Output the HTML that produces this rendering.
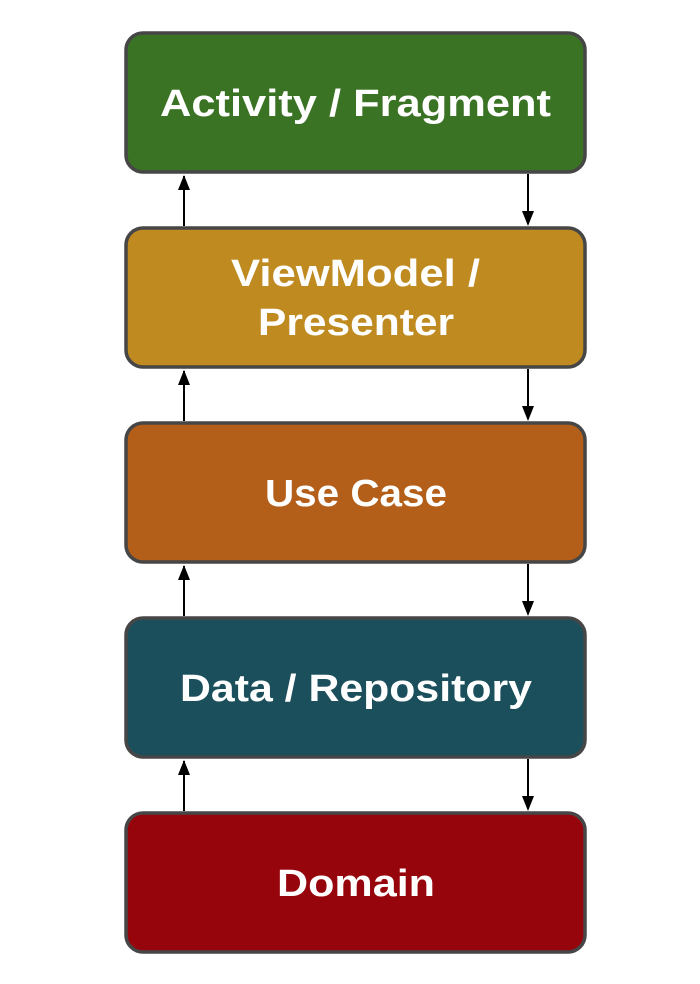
<!DOCTYPE html>
<html><head><meta charset="utf-8"><style>
html,body{margin:0;padding:0;background:#fff;}
svg{display:block}
text{font-family:"Liberation Sans",sans-serif;font-weight:bold;fill:#fff;font-size:38px;text-anchor:middle}
</style></head><body>
<svg width="700" height="984" viewBox="0 0 700 984">
<g stroke="#464646" stroke-width="3.5">
<rect x="126" y="33" width="459" height="139" rx="17" fill="#3b7324"/>
<rect x="126" y="228" width="459" height="139" rx="17" fill="#bf8b21"/>
<rect x="126" y="423" width="459" height="139" rx="17" fill="#b35f1a"/>
<rect x="126" y="618" width="459" height="139" rx="17" fill="#1b4f5b"/>
<rect x="126" y="813" width="459" height="139" rx="17" fill="#96040c"/>
</g>
<text x="355.5" y="116" textLength="391" lengthAdjust="spacingAndGlyphs">Activity / Fragment</text>
<text x="355.5" y="286" textLength="249" lengthAdjust="spacingAndGlyphs">ViewModel /</text>
<text x="356" y="335" textLength="196" lengthAdjust="spacingAndGlyphs">Presenter</text>
<text x="356" y="506" textLength="182" lengthAdjust="spacingAndGlyphs">Use Case</text>
<text x="356" y="701" textLength="352" lengthAdjust="spacingAndGlyphs">Data / Repository</text>
<text x="356" y="896" textLength="158" lengthAdjust="spacingAndGlyphs">Domain</text>
<g stroke="#000" stroke-width="2">
<line x1="184" y1="226" x2="184" y2="176"/>
<path d="M178,190 L184,175 L190,190 Z" fill="#000" stroke="none"/>
<line x1="184" y1="421" x2="184" y2="371"/>
<path d="M178,385 L184,370 L190,385 Z" fill="#000" stroke="none"/>
<line x1="184" y1="616" x2="184" y2="566"/>
<path d="M178,580 L184,565 L190,580 Z" fill="#000" stroke="none"/>
<line x1="184" y1="811" x2="184" y2="761"/>
<path d="M178,775 L184,760 L190,775 Z" fill="#000" stroke="none"/>
<line x1="528" y1="174" x2="528" y2="224"/>
<path d="M522,211 L528,226 L534,211 Z" fill="#000" stroke="none"/>
<line x1="528" y1="369" x2="528" y2="419"/>
<path d="M522,406 L528,421 L534,406 Z" fill="#000" stroke="none"/>
<line x1="528" y1="564" x2="528" y2="614"/>
<path d="M522,601 L528,616 L534,601 Z" fill="#000" stroke="none"/>
<line x1="528" y1="759" x2="528" y2="809"/>
<path d="M522,796 L528,811 L534,796 Z" fill="#000" stroke="none"/>
</g>
</svg>
</body></html>
